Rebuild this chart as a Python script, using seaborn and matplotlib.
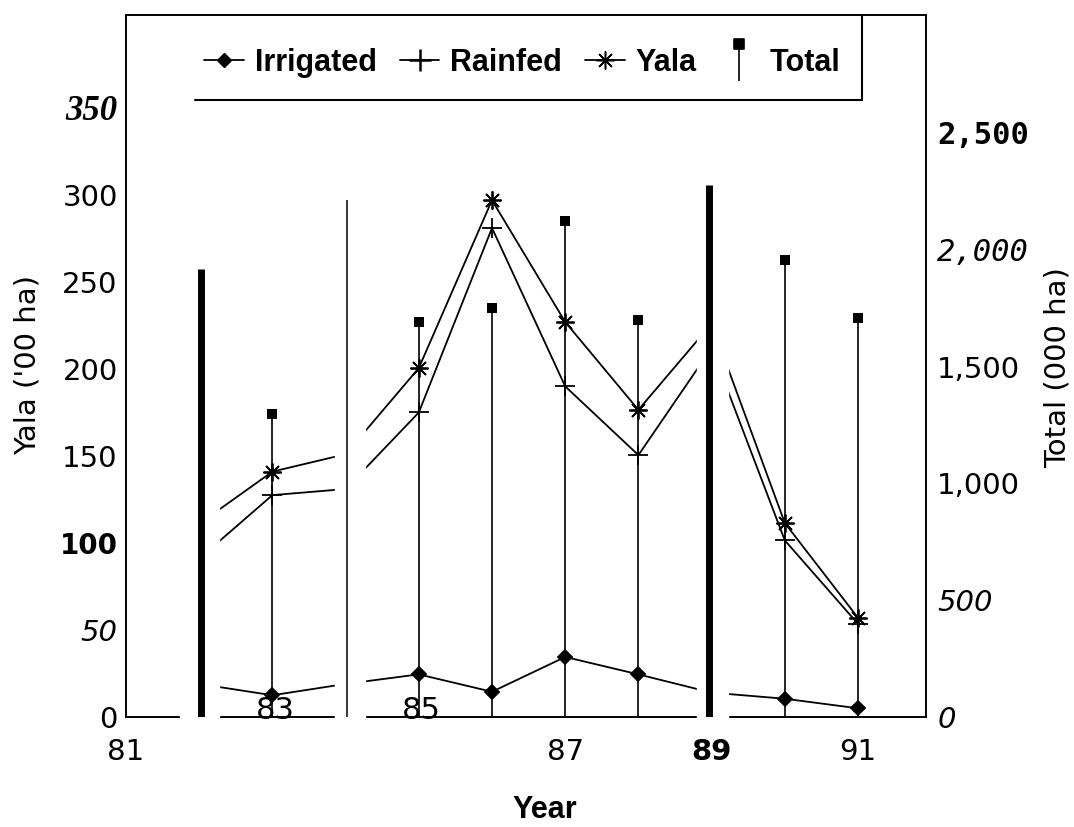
import matplotlib
matplotlib.use('Agg')
import matplotlib.pyplot as plt
import seaborn as sns
from matplotlib.lines import Line2D
from matplotlib.path import Path

# Yala area ('00 ha) by year
years = [82, 83, 84, 85, 86, 87, 88, 89, 90, 91]
irrigated = [19, 12.5, 19, 24.5, 14.5, 34.5, 24.5, 14, 10.5, 5]
rainfed = [91, 127.5, 131, 175, 281, 190, 150.5, 212, 101.5, 53.5]
yala = [111, 141, 151, 200.5, 297, 227, 176.5, 226, 111.5, 57]

# Total ('000 ha), right axis
total_years = [83, 85, 86, 87, 88, 90, 91]
total = [1295, 1690, 1750, 2125, 1700, 1955, 1708]

left_ticks = [0, 50, 100, 150, 200, 250, 300, 350]
right_ticks = [0, 500, 1000, 1500, 2000, 2500]
x_ticks = [81, 87, 89, 91]
inner_x_labels = [83, 85]

# scan artefacts: white gaps and paste-up bars
gaps = [(81.74, 82.27), (83.86, 84.27), (88.80, 89.22)]
bars = [(82.02, 0.638, 5.0), (84.02, 0.736, 1.1), (88.96, 0.758, 5.0)]

sns.set_style('white')
plt.rcParams['font.family'] = ['DejaVu Sans']
plt.rcParams['axes.edgecolor'] = 'black'
plt.rcParams['axes.linewidth'] = 1.2
plt.rcParams['text.color'] = 'black'
plt.rcParams['xtick.color'] = 'black'
plt.rcParams['ytick.color'] = 'black'
plt.rcParams['axes.labelcolor'] = 'black'

fig = plt.figure(figsize=(10.74, 8.27), dpi=100)
ax = fig.add_axes([126 / 1074, 110 / 827, 800 / 1074, 702 / 827])
ax2 = ax.twinx()

mark_idx = [i for i, y in enumerate(years) if y in total_years]

# Series lines
styles = [(irrigated, 'D', 7), (rainfed, '+', 14), (yala, (8, 2, 0), 13)]
for vals, mk, ms in styles:
    sns.lineplot(x=years, y=vals, ax=ax, color='black', lw=1.3, errorbar=None,
                 marker=mk, markersize=ms, markevery=mark_idx,
                 mec='black', mfc='black', mew=1.3)

# Total stems
ax2.vlines(total_years, 0, total, colors='black', lw=1.2, zorder=2)
sns.scatterplot(x=total_years, y=total, ax=ax2, marker='s', s=60,
                color='black', edgecolor='black', linewidth=0, zorder=3)

# gaps and bars
for a, b in gaps:
    ax2.axvspan(a, b, ymin=-0.01, ymax=0.87, color='white', zorder=4, clip_on=False)
for x, h, w in bars:
    ax2.axvline(x, ymin=0, ymax=h, color='black', lw=w, zorder=5, solid_capstyle='butt')

ax.set_xlim(81, 81 + 800 / 73.2)
ax.set_ylim(0, 403.4)
ax2.set_ylim(0, 3005)

# x ticks
ax.set_xticks(x_ticks)
ax.set_xticklabels([str(x) for x in x_ticks])
ax.tick_params(axis='x', length=0, pad=15, labelsize=21)
for lab in ax.get_xticklabels():
    if lab.get_text() == '89':
        lab.set_fontweight('bold')
for x in inner_x_labels:
    ax.text(x + 0.04, -1, str(x), ha='center', va='baseline', fontsize=22, zorder=6)

# left ticks, mixed fonts as in the scan
ax.set_yticks(left_ticks)
ax.set_yticklabels([str(v) for v in left_ticks])
ax.tick_params(axis='y', length=0, pad=6, labelsize=21)
for lab in ax.get_yticklabels():
    t = lab.get_text()
    if t == '50':
        lab.set_fontstyle('oblique')
    elif t == '100':
        lab.set_fontweight('bold')
        lab.set_fontsize(20)
    elif t == '350':
        lab.set_fontfamily('Liberation Serif')
        lab.set_fontstyle('italic')
        lab.set_fontweight('bold')
        lab.set_fontsize(25)

# right ticks
ax2.set_yticks(right_ticks)
ax2.set_yticklabels([f'{v:,}' for v in right_ticks])
ax2.tick_params(axis='y', length=0, pad=8, labelsize=21)
for lab in ax2.get_yticklabels():
    t = lab.get_text()
    if t in ('0', '500'):
        lab.set_fontstyle('oblique')
    elif t == '2,000':
        lab.set_fontfamily('DejaVu Sans Mono')
        lab.set_fontstyle('oblique')
        lab.set_fontsize(22)
    elif t == '2,500':
        lab.set_fontfamily('DejaVu Sans Mono')
        lab.set_fontweight('bold')
        lab.set_fontsize(22)

# Legend
total_path = Path([(-0.6, 1.3), (0.6, 1.3), (0.6, 2.5), (-0.6, 2.5), (-0.6, 1.3),
                   (0, 1.3), (0, -2.5)],
                  [Path.MOVETO, Path.LINETO, Path.LINETO, Path.LINETO, Path.CLOSEPOLY,
                   Path.MOVETO, Path.LINETO])
handles = [
    Line2D([], [], color='black', lw=1.3, marker='D', markersize=7),
    Line2D([], [], color='black', lw=1.3, marker='+', markersize=16, mew=1.8),
    Line2D([], [], color='black', lw=1.3, marker=(8, 2, 0), markersize=13, mew=1.1),
    Line2D([], [], ls='none', color='black', marker=total_path, markersize=30, mew=1.2),
]
labels = ['Irrigated', 'Rainfed', 'Yala', 'Total']
leg = ax2.legend(handles, labels, loc='center left', bbox_to_anchor=(0.098, 0.932),
                 ncol=4, frameon=False, handlelength=1.3, handletextpad=0.35,
                 columnspacing=0.75, borderpad=0, borderaxespad=0,
                 prop={'family': 'Liberation Sans', 'weight': 'bold', 'size': 22})
leg.set_zorder(10)
ax2.plot([0.086, 0.92], [0.879, 0.879], transform=ax2.transAxes, color='black',
         lw=1.5, zorder=6, clip_on=False)
ax2.plot([0.92, 0.92], [0.879, 1.0], transform=ax2.transAxes, color='black',
         lw=1.5, zorder=6, clip_on=False)

# Axis titles
fig.text(28 / 1074, 1 - 365 / 827, "Yala ('00 ha)", rotation=90, ha='center',
         va='center', fontsize=21)
fig.text(1058 / 1074, 1 - 368 / 827, "Total (000 ha)", rotation=90, ha='center',
         va='center', fontsize=21)
fig.text(545 / 1074, 1 - 810 / 827, 'Year', ha='center', va='center',
         fontsize=22, fontweight='bold', family='Liberation Sans')

fig.savefig('out.png', dpi=100)
